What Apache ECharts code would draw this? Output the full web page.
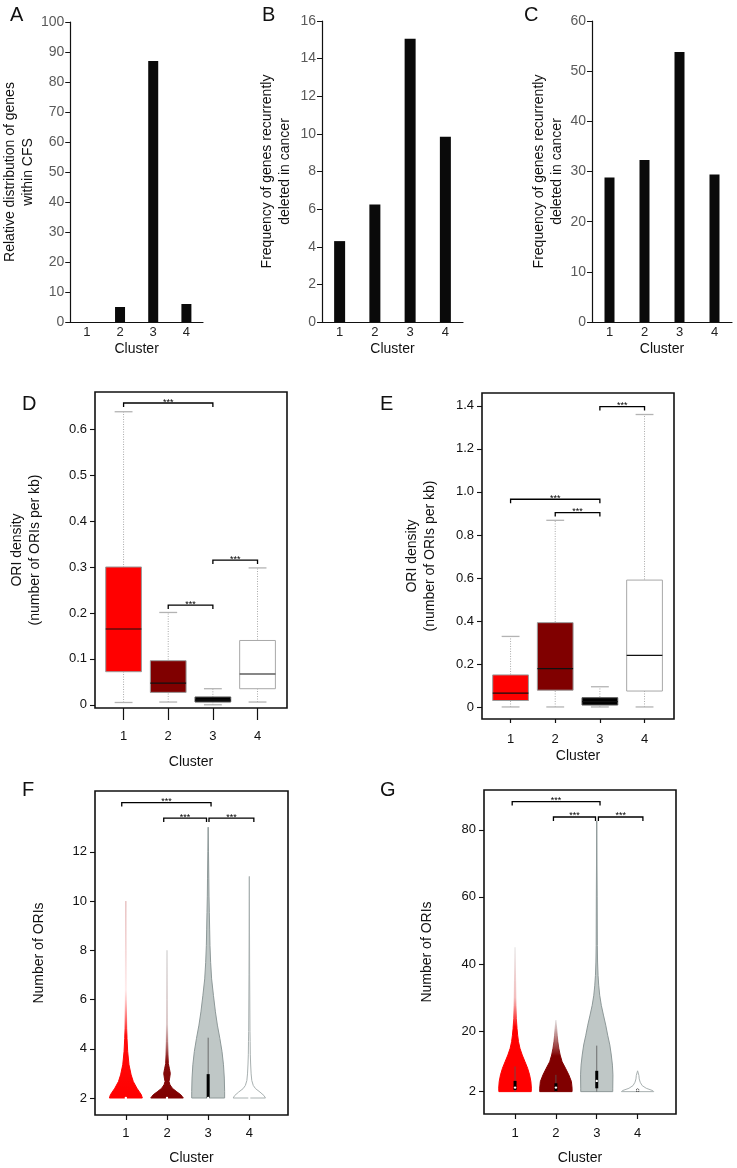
<!DOCTYPE html>
<html><head><meta charset="utf-8">
<script src="https://cdn.jsdelivr.net/npm/echarts@6/dist/echarts.min.js"></script>
<style>html,body{margin:0;padding:0;background:#fff}#c{width:737px;height:1168px}</style>
</head><body><div id="c"></div>
<script>
// ---------- DATA ----------
const clusters = ['1', '2', '3', '4'];
const clusterPos = [1, 2, 3, 4];
const cfsShare = [0, 5, 87, 6];                 // A
const deletedB = [4.3, 6.25, 15.05, 9.85];      // B
const deletedC = [28.8, 32.3, 53.8, 29.4];      // C
// box stats: [cluster, whiskerLow, q1, median, q3, whiskerHigh]
const boxD = [[1, 0.005, 0.072, 0.165, 0.300, 0.638], [2, 0.006, 0.027, 0.047, 0.096, 0.201], [3, 0.000, 0.006, 0.010, 0.017, 0.035], [4, 0.006, 0.035, 0.067, 0.140, 0.298]];
const boxE = [[1, 0.000, 0.030, 0.064, 0.149, 0.328], [2, 0.000, 0.078, 0.178, 0.392, 0.868], [3, 0.000, 0.009, 0.025, 0.043, 0.094], [4, 0.000, 0.074, 0.240, 0.590, 1.360]];
// significance brackets: [from, to, height]
const sigD = [[1, 3, 0.657], [2, 3, 0.217], [3, 4, 0.315]];
const sigE = [[3, 4, 1.397], [1, 3, 0.966], [2, 3, 0.904]];
const sigF = [[0.9, 3.07, 14.0], [1.92, 2.96, 13.37], [3.02, 4.11, 13.37]];
const sigG = [[0.93, 3.08, 88.4], [1.94, 2.97, 83.8], [3.04, 4.13, 83.8]];
const sigText = '***';
// violin profiles: [value, relative density]
const violinF = [
  [[2, 1.0], [2.13, 0.94], [2.4, 0.67], [2.67, 0.45], [2.94, 0.32], [3.35, 0.19], [3.89, 0.11], [4.42, 0.07], [4.83, 0.05], [6, 0.03], [8, 0.025], [10, 0]],
  [[2, 0.99], [2.13, 0.84], [2.27, 0.56], [2.4, 0.32], [2.54, 0.18], [2.67, 0.12], [2.81, 0.16], [3.0, 0.2], [3.21, 0.14], [3.4, 0.08], [3.75, 0.06], [4.3, 0.04], [6, 0.02], [8, 0]],
  [[2, 1.0], [2.27, 1.0], [2.81, 0.98], [3.35, 0.93], [3.89, 0.84], [4.42, 0.71], [4.96, 0.56], [5.5, 0.44], [6.17, 0.32], [6.84, 0.21], [7.51, 0.15], [8.19, 0.11], [8.86, 0.09], [9.53, 0.07], [10.2, 0.05], [10.9, 0.04], [12, 0.02], [13, 0]],
  [[2, 0.98], [2.1, 0.89], [2.24, 0.65], [2.38, 0.38], [2.51, 0.24], [2.71, 0.15], [2.98, 0.11], [3.38, 0.08], [3.78, 0.06], [4.3, 0.05], [4.7, 0.04], [7, 0.02], [11, 0]]
];
const violinG = [
  [[2, 0.99], [3.04, 1.0], [5.0, 0.97], [7.0, 0.89], [8.96, 0.77], [10.9, 0.61], [12.9, 0.44], [14.9, 0.3], [16.9, 0.21], [18.8, 0.16], [20.8, 0.12], [23.8, 0.08], [27.7, 0.055], [35, 0.035], [45, 0]],
  [[2, 0.99], [3.04, 0.99], [5.0, 0.95], [7.0, 0.79], [8.96, 0.59], [10.9, 0.38], [12.9, 0.26], [14.9, 0.18], [16.9, 0.12], [18.8, 0.08], [20.8, 0.05], [23.3, 0]],
  [[2, 0.98], [3.04, 0.98], [7.0, 0.99], [9.9, 0.96], [12.9, 0.89], [15.9, 0.8], [18.8, 0.67], [21.8, 0.55], [24.8, 0.41], [27.7, 0.28], [30.7, 0.18], [33.7, 0.12], [36.6, 0.08], [40.6, 0.05], [45.5, 0.035], [60, 0.025], [82.6, 0]],
  [[2, 0.99], [2.3, 0.93], [3.0, 0.53], [3.8, 0.28], [4.8, 0.16], [5.8, 0.1], [6.8, 0.08], [8.2, 0]]
];
// inner box of violins: [low, q1, median, q3, high]
const innerF = [[2, 2, 2, 2, 2], [2, 2, 2, 2, 2], [2, 2, 2, 2.97, 4.45], [2, 2, 2, 2, 2]];
const innerG = [[2, 2.5, 3.2, 5.2, 9.5], [2, 2.2, 3.2, 4.5, 7.0], [2, 3.0, 5.2, 8.2, 15.7], [2, 2.0, 2.4, 2.8, 3.0]];
// tick labels
const ticksD = [0, 0.1, 0.2, 0.3, 0.4, 0.5, 0.6];
const ticksE = [0, 0.2, 0.4, 0.6, 0.8, 1.0, 1.2, 1.4];
const ticksF = [2, 4, 6, 8, 10, 12];
const ticksG = [2, 20, 40, 60, 80];
// texts
const panelLetters = ['A', 'B', 'C', 'D', 'E', 'F', 'G'];
const xName = 'Cluster';
const yNames = [
  'Relative distribution of genes\nwithin CFS',
  'Frequency of genes recurrently\ndeleted in cancer',
  'Frequency of genes recurrently\ndeleted in cancer',
  'ORI density\n(number of ORIs per kb)',
  'ORI density\n(number of ORIs per kb)',
  'Number of ORIs',
  'Number of ORIs'
];

// ---------- STYLE / LAYOUT ----------
const FONT = 'Liberation Sans, Arial, Helvetica, sans-serif';
const chart = echarts.init(document.getElementById('c'), null, {renderer: 'canvas'});
const G = echarts.graphic;
const boxFill = ['#ff0000', '#800000', '#000000', '#ffffff'];
const boxStroke = ['#9a9a9a', '#9a9a9a', '#555555', '#a8a8a8'];
const vFill = [
  new G.LinearGradient(0, 0, 0, 1, [{offset: 0, color: 'rgba(215,150,150,0.5)'}, {offset: 0.45, color: 'rgba(255,215,215,0.35)'}, {offset: 0.68, color: 'rgba(255,0,0,0.95)'}, {offset: 1, color: '#ff0000'}]),
  new G.LinearGradient(0, 0, 0, 1, [{offset: 0, color: 'rgba(200,200,200,0.6)'}, {offset: 0.5, color: 'rgba(200,170,170,0.5)'}, {offset: 0.75, color: 'rgba(128,0,0,0.95)'}, {offset: 1, color: '#800000'}]),
  '#bfc7c6',
  '#ffffff'
];
const vFillG = [
  new G.LinearGradient(0, 0, 0, 1, [{offset: 0, color: 'rgba(225,225,225,0.6)'}, {offset: 0.35, color: 'rgba(240,170,170,0.7)'}, {offset: 0.55, color: '#ff0000'}, {offset: 1, color: '#ff0000'}]),
  new G.LinearGradient(0, 0, 0, 1, [{offset: 0, color: 'rgba(220,220,220,0.6)'}, {offset: 0.3, color: 'rgba(150,60,60,0.8)'}, {offset: 0.5, color: '#800000'}, {offset: 1, color: '#800000'}]),
  '#bfc7c6',
  '#ffffff'
];
const vStroke = [vFill[0], vFill[1], '#8e9999', '#a9b1b1'];
const vStrokeG = [vFillG[0], vFillG[1], '#8e9999', '#a9b1b1'];

function boxRender(params, api) {
  const i = params.dataIndex;
  const x = api.value(0), lo = api.value(1), q1 = api.value(2), med = api.value(3), q3 = api.value(4), hi = api.value(5);
  const half = 0.4, cap = 0.2;
  const pLo = api.coord([x, lo]), pHi = api.coord([x, hi]);
  const b1 = api.coord([x - half, q3]), b2 = api.coord([x + half, q1]);
  const m1 = api.coord([x - half, med]), m2 = api.coord([x + half, med]);
  const c1 = api.coord([x - cap, hi]), c2 = api.coord([x + cap, hi]);
  const d1 = api.coord([x - cap, lo]), d2 = api.coord([x + cap, lo]);
  return {type: 'group', children: [
    {type: 'line', shape: {x1: pLo[0], y1: pLo[1], x2: pHi[0], y2: pHi[1]}, style: {stroke: '#a9a9a9', lineWidth: 1, lineDash: [1, 1.5]}},
    {type: 'line', shape: {x1: c1[0], y1: c1[1], x2: c2[0], y2: c2[1]}, style: {stroke: '#b3b3b3', lineWidth: 1.3}},
    {type: 'line', shape: {x1: d1[0], y1: d1[1], x2: d2[0], y2: d2[1]}, style: {stroke: '#b3b3b3', lineWidth: 1.3}},
    {type: 'rect', shape: {x: b1[0], y: b1[1], width: b2[0] - b1[0], height: b2[1] - b1[1]}, style: {fill: boxFill[i], stroke: boxStroke[i], lineWidth: 1}},
    {type: 'line', shape: {x1: m1[0], y1: m1[1], x2: m2[0], y2: m2[1]}, style: {stroke: '#111', lineWidth: 1.2}}
  ]};
}

function sigRender(params, api) {
  const a = api.coord([api.value(0), api.value(2)]);
  const b = api.coord([api.value(1), api.value(2)]);
  const tip = 4;
  return {type: 'group', children: [
    {type: 'polyline', shape: {points: [[a[0], a[1] + tip], a, b, [b[0], b[1] + tip]]}, style: {stroke: '#000', lineWidth: 1.3, fill: null}},
    {type: 'text', style: {text: sigText, x: (a[0] + b[0]) / 2, y: a[1] - 1, align: 'center', verticalAlign: 'middle', fontSize: 9, fontFamily: FONT, fill: '#000'}}
  ]};
}

function violinRender(profiles, fills, strokes, inner) {
  return function (params, api) {
    const i = params.dataIndex;
    const x = api.value(0);
    const prof = profiles[i];
    const half = 0.4;
    const right = prof.map(p => api.coord([x + p[1] * half, p[0]]));
    const left = prof.slice().reverse().map(p => api.coord([x - p[1] * half, p[0]]));
    const st = inner[i];
    const pl = api.coord([x, st[0]]), p1 = api.coord([x, st[1]]), pm = api.coord([x, st[2]]), p3 = api.coord([x, st[3]]), ph = api.coord([x, st[4]]);
    const ch = [
      {type: 'polygon', shape: {points: right.concat(left)}, style: {fill: fills[i], stroke: strokes[i], lineWidth: 1}},
      {type: 'line', shape: {x1: pl[0], y1: pl[1], x2: ph[0], y2: ph[1]}, style: {stroke: '#555', lineWidth: 0.8}},
      {type: 'rect', shape: {x: p1[0] - 1.5, y: p3[1], width: 3, height: p1[1] - p3[1]}, style: {fill: '#000'}},
      {type: 'circle', shape: {cx: pm[0], cy: pm[1], r: 1.2}, style: {fill: '#fff'}}
    ];
    return {type: 'group', children: ch};
  };
}

// grids: A..G
const grids = [
  {left: 70, top: 22, width: 133, height: 300},
  {left: 322, top: 21, width: 141, height: 301},
  {left: 592, top: 21, width: 140, height: 301},
  {left: 95, top: 392, width: 192, height: 316},
  {left: 482, top: 393, width: 192, height: 326},
  {left: 95, top: 791, width: 193, height: 326},
  {left: 484, top: 790, width: 192, height: 326}
];
const frame = {show: true, borderColor: '#111', borderWidth: 1.6, backgroundColor: 'transparent'};
grids.forEach((g, i) => { if (i >= 3) Object.assign(g, frame); });

const nameStyle = {fontSize: 14, fontFamily: FONT, color: '#111', lineHeight: 18};
const fmt1 = v => v === 0 ? '0' : v.toFixed(1);

function catX(i, margin, gap) {
  return {type: 'category', gridIndex: i, data: clusters,
    axisLine: {onZero: false, lineStyle: {color: '#111', width: 1.2}},
    axisTick: {length: 5, lineStyle: {color: '#111'}},
    axisLabel: {margin: margin, fontSize: 13, fontFamily: FONT, color: '#222'},
    name: xName, nameLocation: 'middle', nameGap: gap, nameTextStyle: nameStyle};
}
function barY(i, max, interval, gap) {
  return {type: 'value', gridIndex: i, min: 0, max: max, interval: interval,
    splitLine: {show: false},
    axisLine: {show: true, onZero: false, lineStyle: {color: '#111', width: 1.2}},
    axisTick: {show: true, length: 5, lineStyle: {color: '#111'}},
    axisLabel: {margin: 6, fontSize: 14, fontFamily: FONT, color: '#5a5a5a'},
    name: yNames[i], nameLocation: 'middle', nameRotate: 90, nameGap: gap, nameTextStyle: nameStyle};
}
function valX(i, min, max, tickLen, margin, gap) {
  return {type: 'value', gridIndex: i, min: min, max: max, position: 'bottom',
    splitLine: {show: false},
    axisLine: {show: false, onZero: false},
    axisTick: {show: true, length: tickLen, lineStyle: {color: '#111', width: 1.2}, customValues: clusterPos},
    axisLabel: {margin: margin, fontSize: 13, fontFamily: FONT, color: '#111', customValues: clusterPos},
    name: xName, nameLocation: 'middle', nameGap: gap, nameTextStyle: nameStyle};
}
function valY(i, min, max, ticks, formatter, gap) {
  return {type: 'value', gridIndex: i, min: min, max: max, position: 'left',
    splitLine: {show: false},
    axisLine: {show: false, onZero: false},
    axisTick: {show: true, length: 5, lineStyle: {color: '#111', width: 1.1}, customValues: ticks},
    axisLabel: {margin: 8, fontSize: 13, fontFamily: FONT, color: '#111', customValues: ticks, formatter: formatter},
    name: yNames[i], nameLocation: 'middle', nameRotate: 90, nameGap: gap, nameTextStyle: nameStyle};
}

const option = {
  backgroundColor: '#fff',
  animation: false,
  textStyle: {fontFamily: FONT},
  grid: grids,
  xAxis: [
    catX(0, 4, 18), catX(1, 4, 18), catX(2, 4, 18),
    valX(3, 0.36, 4.66, 12, 22, 45),
    valX(4, 0.36, 4.66, 4, 14, 27),
    valX(5, 0.25, 4.94, 5, 12, 34),
    valX(6, 0.24, 4.94, 5, 13, 35)
  ],
  yAxis: [
    barY(0, 100, 10, 33), barY(1, 16, 2, 28), barY(2, 60, 10, 26),
    valY(3, -0.007, 0.681, ticksD, fmt1, 51),
    valY(4, -0.056, 1.46, ticksE, fmt1, 43),
    valY(5, 1.31, 14.47, ticksF, null, 47),
    valY(6, -4.66, 91.84, ticksG, null, 48)
  ],
  graphic: panelLetters.map((t, i) => ({
    type: 'text', left: [10, 262, 524, 22, 380, 22, 380][i], top: [5, 5, 5, 394, 394, 780, 780][i],
    style: {text: t, fontSize: 20, fontFamily: FONT, fill: '#111'}
  })),
  series: [
    {type: 'bar', xAxisIndex: 0, yAxisIndex: 0, data: cfsShare, barWidth: 10, itemStyle: {color: '#0a0a0a'}},
    {type: 'bar', xAxisIndex: 1, yAxisIndex: 1, data: deletedB, barWidth: 11, itemStyle: {color: '#0a0a0a'}},
    {type: 'bar', xAxisIndex: 2, yAxisIndex: 2, data: deletedC, barWidth: 10, itemStyle: {color: '#0a0a0a'}},
    {type: 'custom', xAxisIndex: 3, yAxisIndex: 3, data: boxD, encode: {x: 0, y: [1, 2, 3, 4, 5]}, renderItem: boxRender, clip: false},
    {type: 'custom', xAxisIndex: 4, yAxisIndex: 4, data: boxE, encode: {x: 0, y: [1, 2, 3, 4, 5]}, renderItem: boxRender, clip: false},
    {type: 'custom', xAxisIndex: 3, yAxisIndex: 3, data: sigD, encode: {x: [0, 1], y: 2}, renderItem: sigRender, clip: false},
    {type: 'custom', xAxisIndex: 4, yAxisIndex: 4, data: sigE, encode: {x: [0, 1], y: 2}, renderItem: sigRender, clip: false},
    {type: 'custom', xAxisIndex: 5, yAxisIndex: 5, data: clusterPos.map((c, i) => [c, violinF[i][violinF[i].length - 1][0]]), encode: {x: 0, y: 1}, renderItem: violinRender(violinF, vFill, vStroke, innerF), clip: false},
    {type: 'custom', xAxisIndex: 6, yAxisIndex: 6, data: clusterPos.map((c, i) => [c, violinG[i][violinG[i].length - 1][0]]), encode: {x: 0, y: 1}, renderItem: violinRender(violinG, vFillG, vStrokeG, innerG), clip: false},
    {type: 'custom', xAxisIndex: 5, yAxisIndex: 5, data: sigF, encode: {x: [0, 1], y: 2}, renderItem: sigRender, clip: false},
    {type: 'custom', xAxisIndex: 6, yAxisIndex: 6, data: sigG, encode: {x: [0, 1], y: 2}, renderItem: sigRender, clip: false}
  ]
};
chart.setOption(option);
</script></body></html>
